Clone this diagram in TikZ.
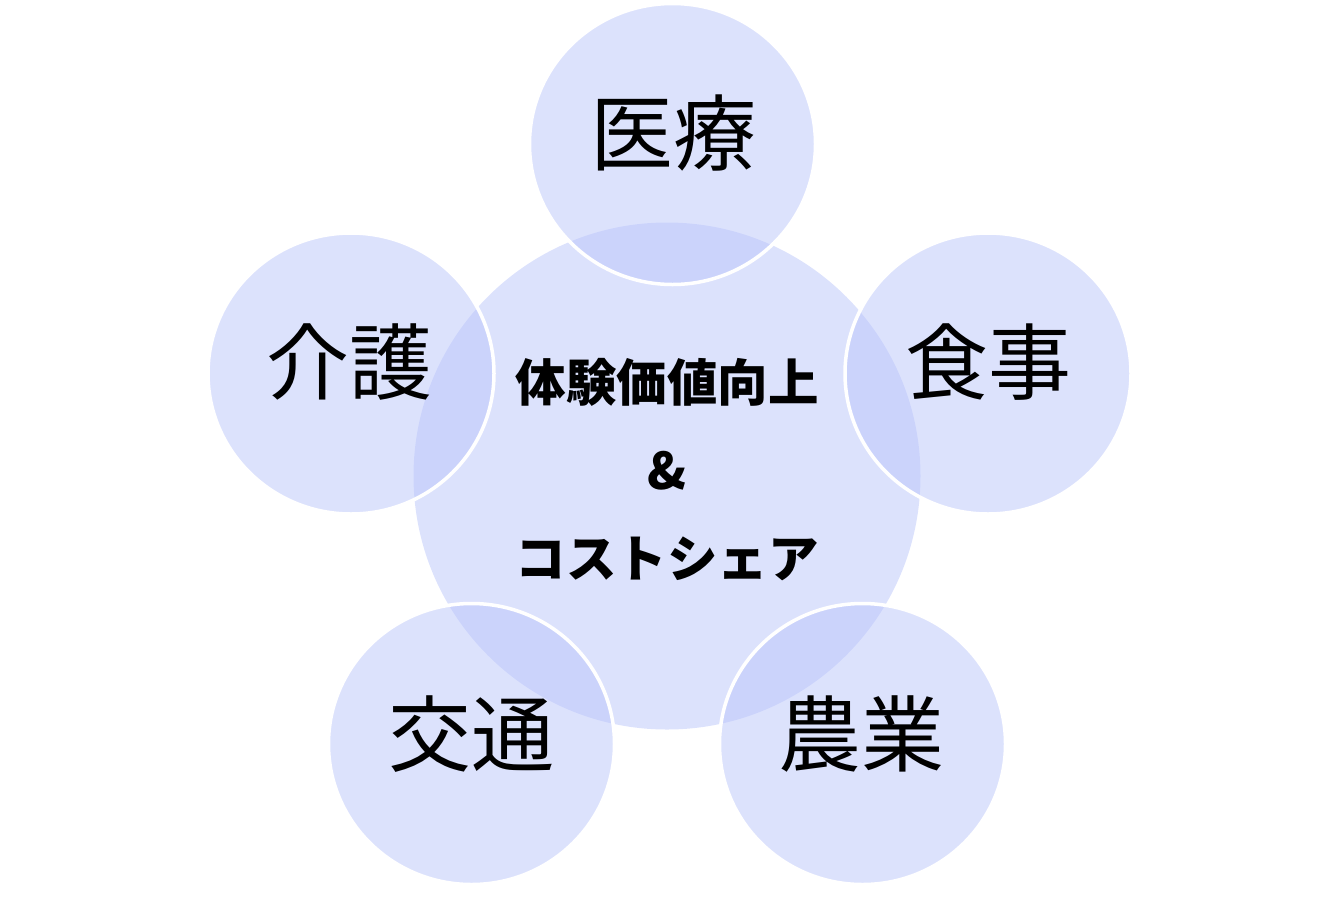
\documentclass[tikz,border=0pt]{standalone}
\usepackage{fontspec}
\newfontfamily\cjk{Noto Sans CJK JP}
\usetikzlibrary{shapes.geometric}
\definecolor{bub}{RGB}{186,197,250}
\tikzset{
  outer/.style={ellipse, fill=bub, fill opacity=0.5, draw=white, line width=3.5pt,
    minimum width=286pt, minimum height=281pt, inner sep=0pt},
  hub/.style={circle, fill=bub, fill opacity=0.5, minimum size=507pt, inner sep=0pt},
  lab/.style={font=\cjk\fontsize{83}{96}\selectfont, text=black, inner sep=0pt},
  hublab/.style={font=\cjk\bfseries\fontsize{50.5}{88}\selectfont, text=black, align=center, inner sep=0pt}
}
\begin{document}
\begin{tikzpicture}[x=1pt,y=-1pt]
\useasboundingbox (0,0) rectangle (1334,903);
\node[hub] (c0) at (667,476) {};
\node[outer] (c1) at (672.5,144) {};
\node[outer] (c2) at (351,373.5) {};
\node[outer] (c3) at (988,373.5) {};
\node[outer] (c4) at (471.5,744) {};
\node[outer] (c5) at (862.5,744) {};
\node[lab] (t1) at (673,133) {医療};
\node[lab] (t2) at (349,362) {介護};
\node[lab] (t3) at (988,362) {食事};
\node[lab] (t4) at (471,734) {交通};
\node[lab] (t5) at (861,734) {農業};
\node[hublab] (t0) at (667,470) {体験価値向上\\\&\\コストシェア};
\end{tikzpicture}
\end{document}
